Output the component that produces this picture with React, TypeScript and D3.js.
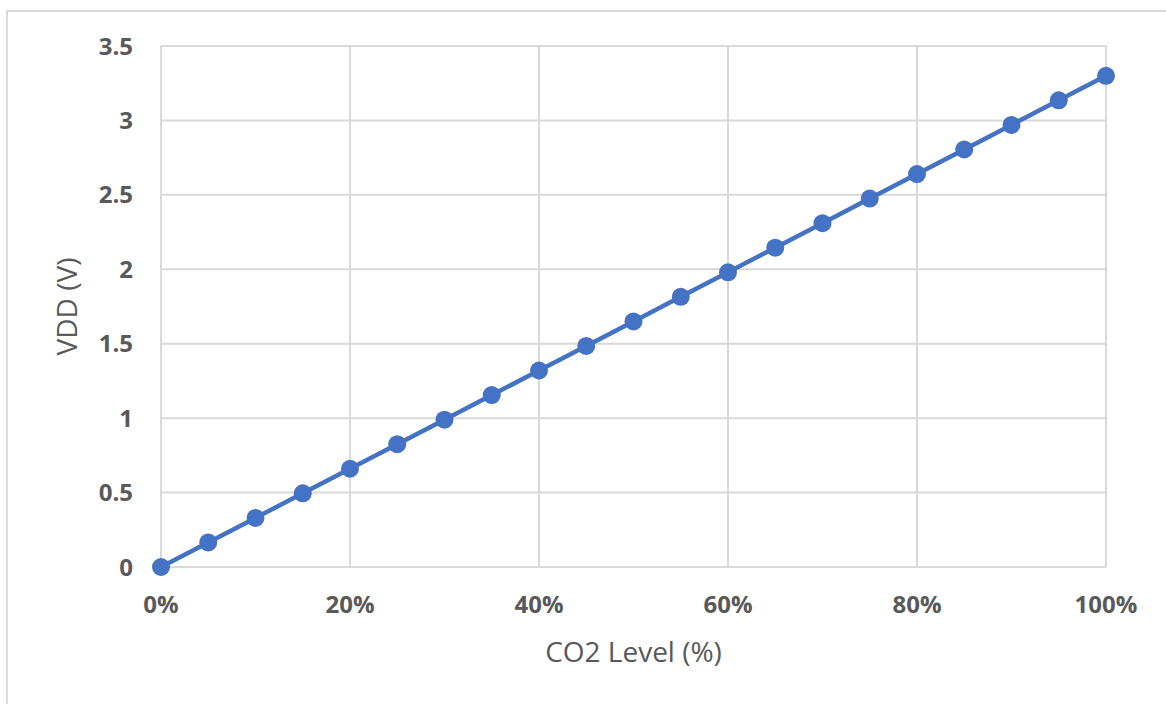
import React, { useEffect, useRef } from "react";
import * as d3 from "d3";

// CO2 level (fraction) and matching VDD reading
const co2Levels = [
  0, 0.05, 0.1, 0.15, 0.2, 0.25, 0.3, 0.35, 0.4, 0.45, 0.5, 0.55, 0.6, 0.65,
  0.7, 0.75, 0.8, 0.85, 0.9, 0.95, 1.0,
];
const vddValues = [
  0, 0.165, 0.33, 0.495, 0.66, 0.825, 0.99, 1.155, 1.32, 1.485, 1.65, 1.815,
  1.98, 2.145, 2.31, 2.475, 2.64, 2.805, 2.97, 3.135, 3.3,
];
const xTicks = [0, 0.2, 0.4, 0.6, 0.8, 1.0];
const yTicks = [0, 0.5, 1, 1.5, 2, 2.5, 3, 3.5];

const xTitle = "CO2 Level (%)";
const yTitle = "VDD (V)";

const App: React.FC = () => {
  const svgRef = useRef<SVGSVGElement>(null);

  useEffect(() => {
    const width = 1166;
    const height = 704;
    const left = 161;
    const right = 1106;
    const top = 46;
    const bottom = 567;
    const textColor = "#595959";
    const gridColor = "#d9d9d9";
    const font = "'Open Sans', sans-serif";

    const svg = d3
      .select(svgRef.current)
      .attr("width", width)
      .attr("height", height);

    svg.selectAll("*").remove();

    svg
      .append("rect")
      .attr("width", width)
      .attr("height", height)
      .attr("fill", "white");

    // outer chart frame (only left and top are visible)
    svg
      .append("path")
      .attr("d", `M7,${height} L7,11 L${width},11`)
      .attr("fill", "none")
      .attr("stroke", "#d9d9d9")
      .attr("stroke-width", 2);

    const x = d3.scaleLinear().domain([0, 1]).range([left, right]);
    const y = d3.scaleLinear().domain([0, 3.5]).range([bottom, top]);

    const grid = svg.append("g");
    grid
      .selectAll("line.h")
      .data(yTicks)
      .enter()
      .append("line")
      .attr("x1", left)
      .attr("x2", right)
      .attr("y1", (d) => y(d))
      .attr("y2", (d) => y(d))
      .attr("stroke", gridColor)
      .attr("stroke-width", 2);

    grid
      .selectAll("line.v")
      .data(xTicks)
      .enter()
      .append("line")
      .attr("y1", top)
      .attr("y2", bottom)
      .attr("x1", (d) => x(d))
      .attr("x2", (d) => x(d))
      .attr("stroke", gridColor)
      .attr("stroke-width", 2);

    // y tick labels
    svg
      .append("g")
      .selectAll("text")
      .data(yTicks)
      .enter()
      .append("text")
      .attr("x", 133)
      .attr("y", (d) => y(d))
      .attr("dy", "0.36em")
      .attr("text-anchor", "end")
      .attr("fill", textColor)
      .style("font-family", font)
      .style("font-weight", "bold")
      .style("font-size", "24px")
      .text((d) => String(d));

    // x tick labels
    svg
      .append("g")
      .selectAll("text")
      .data(xTicks)
      .enter()
      .append("text")
      .attr("x", (d) => x(d))
      .attr("y", 613)
      .attr("text-anchor", "middle")
      .attr("fill", textColor)
      .style("font-family", font)
      .style("font-weight", "bold")
      .style("font-size", "24px")
      .text((d) => d3.format(".0%")(d));

    svg
      .append("text")
      .attr("x", (left + right) / 2)
      .attr("y", 662)
      .attr("text-anchor", "middle")
      .attr("fill", textColor)
      .style("font-family", font)
      .style("font-size", "28px")
      .text(xTitle);

    svg
      .append("text")
      .attr("transform", `translate(77,${(top + bottom) / 2}) rotate(-90)`)
      .attr("text-anchor", "middle")
      .attr("fill", textColor)
      .style("font-family", font)
      .style("font-size", "28px")
      .text(yTitle);

    const points = co2Levels.map((c, i) => [c, vddValues[i]] as [number, number]);

    const line = d3
      .line<[number, number]>()
      .x((d) => x(d[0]))
      .y((d) => y(d[1]));

    svg
      .append("path")
      .datum(points)
      .attr("d", line)
      .attr("fill", "none")
      .attr("stroke", "#4472c4")
      .attr("stroke-width", 4.5);

    svg
      .append("g")
      .selectAll("circle")
      .data(points)
      .enter()
      .append("circle")
      .attr("cx", (d) => x(d[0]))
      .attr("cy", (d) => y(d[1]))
      .attr("r", 9)
      .attr("fill", "#4472c4");

    return () => {
      svg.selectAll("*").remove();
    };
  }, []);

  return (
    <svg
      ref={svgRef}
      style={{ position: "absolute", left: 0, top: 0, display: "block" }}
    />
  );
};

export default App;
